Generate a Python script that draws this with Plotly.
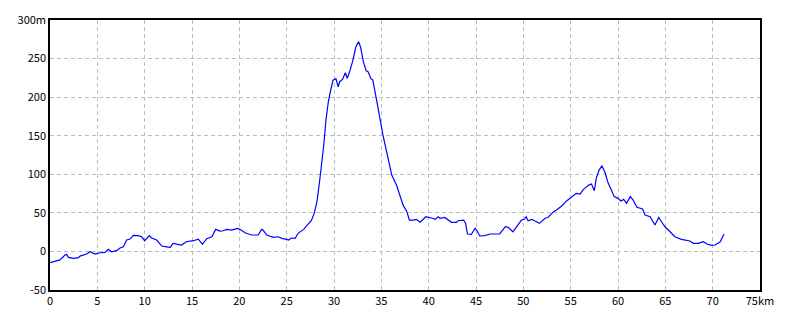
import plotly.graph_objects as go

distance_km = [0, 1.06, 1.58, 1.76, 1.94, 2.46, 3.0, 3.17, 3.87, 4.22, 4.75, 5.28, 5.8, 6.16, 6.5,
               7.04, 7.4, 7.75, 8.1, 8.45, 8.8, 9.33, 9.68, 10.0, 10.5, 10.74, 11.27, 11.8, 12.33,
               12.7, 13.0, 13.55, 13.9, 14.4, 15.14, 15.67, 16.1, 16.55, 17.1, 17.5, 17.96, 18.3,
               18.66, 19.2, 19.8, 20.07, 20.6, 21.3, 22.0, 22.36, 22.5, 22.9, 23.6, 24.1, 24.5,
               25.0, 25.2, 25.5, 25.9, 26.2, 26.8, 27.1, 27.6, 27.9, 28.2, 28.45, 28.7, 28.9,
               29.15, 29.4, 29.65, 29.9, 30.2, 30.45, 30.6, 30.9, 31.2, 31.4, 31.7, 32.0, 32.3,
               32.6, 32.8, 33.1, 33.4, 33.6, 33.9, 34.1, 34.5, 34.86, 35.2, 35.6, 36.1, 36.6,
               36.97, 37.3, 37.7, 37.96, 38.4, 38.7, 39.1, 39.7, 40.3, 40.7, 41.0, 41.2, 41.7,
               42.4, 42.96, 43.1, 43.7, 43.9, 44.1, 44.5, 44.9, 45.1, 45.4, 45.9, 46.5, 47.2,
               47.5, 48.1, 48.4, 48.9, 49.3, 49.8, 50.1, 50.3, 50.5, 50.9, 51.7, 52.3, 52.6,
               53.2, 53.5, 54.05, 54.6, 55.1, 55.6, 56.0, 56.35, 56.9, 57.2, 57.5, 57.7, 58.0,
               58.3, 58.6, 58.97, 59.3, 59.6, 60.0, 60.3, 60.6, 60.9, 61.3, 61.6, 62.0, 62.6,
               62.85, 63.4, 63.9, 64.3, 64.6, 64.96, 65.5, 66.0, 66.7, 67.6, 67.95, 68.5, 69.0,
               69.4, 69.9, 70.25, 70.8, 71.05, 71.2]
elevation_m = [-14.6, -11, -4.7, -3.8, -7.7, -9, -8, -6, -3.4, -0.4, -3.4, -1.7, -1.2, 2.7, -0.4,
               1, 4.4, 6, 14.8, 16, 20.8, 20.4, 19, 13.9, 20.4, 17.4, 14.8, 7, 6,
               5.3, 10.5, 9.6, 8.3, 12.6, 13.9, 16, 9.2, 16.5, 19, 28.6, 26.4, 26.8,
               28.6, 27.7, 29.9, 28.6, 24.2, 21.3, 21.3, 28.6, 27.7, 21.3, 18.3, 19, 17,
               15.7, 14.8, 17.4, 17, 23.5, 28.6, 33, 39.8, 49, 64.4, 88, 114, 135.7,
               170, 194, 209, 222, 224, 213.5, 220, 223, 231.6, 224.4, 235, 248, 265,
               272, 265, 246, 234, 233, 224, 222, 196, 170, 149, 127, 99, 86,
               73, 60, 51.5, 40.7, 40.7, 41.6, 38, 45, 43.3, 41.6, 45, 43, 44,
               37.7, 37.7, 39.8, 40.7, 36.4, 22.6, 22, 29.9, 26.8, 20, 20.4, 22.6, 22,
               22.6, 32, 31.2, 25.5, 32, 40.7, 41.6, 45, 39.8, 41.6, 36.4, 43, 44,
               51.5, 53.7, 58.9, 65.8, 71, 75.3, 74.4, 80.5, 86, 87.4, 78.7, 94.8, 105.5,
               110.7, 103.3, 88.3, 79.6, 71, 68.8, 65.3, 67.5, 62.3, 71, 66.6, 57.2, 55,
               47.2, 45, 34.2, 44, 38.5, 32, 25.5, 19, 15.7, 13.5, 10.5, 10.5, 12.6,
               9.6, 7.9, 8.3, 12.6, 19, 22.6]

x_ticks = [0, 5, 10, 15, 20, 25, 30, 35, 40, 45, 50, 55, 60, 65, 70, 75]
x_labels = ["0", "5", "10", "15", "20", "25", "30", "35", "40", "45", "50", "55", "60", "65", "70", "75km"]
y_ticks = [-50, 0, 50, 100, 150, 200, 250, 300]
y_labels = ["-50", "0", "50", "100", "150", "200", "250", "300m"]

fig = go.Figure()
fig.add_trace(go.Scatter(x=distance_km, y=elevation_m, mode="lines",
                         line=dict(color="#0000ff", width=1.2), hoverinfo="skip"))

axis_common = dict(showline=True, linecolor="black", linewidth=1.5, mirror=True,
                   showgrid=True, gridcolor="#bdbdbd", griddash="4px,3px", gridwidth=1,
                   zeroline=False, ticks="", tickfont=dict(family="Noto Sans CJK JP", size=11, color="black"))

fig.update_xaxes(range=[0, 75], tickvals=x_ticks, ticktext=x_labels, **axis_common)
fig.update_yaxes(range=[-50, 300], tickvals=y_ticks, ticktext=y_labels, **axis_common)

fig.update_layout(width=800, height=320, margin=dict(l=50, r=40, t=20, b=30),
                  paper_bgcolor="white", plot_bgcolor="white", showlegend=False)

fig.write_html("out.html")
